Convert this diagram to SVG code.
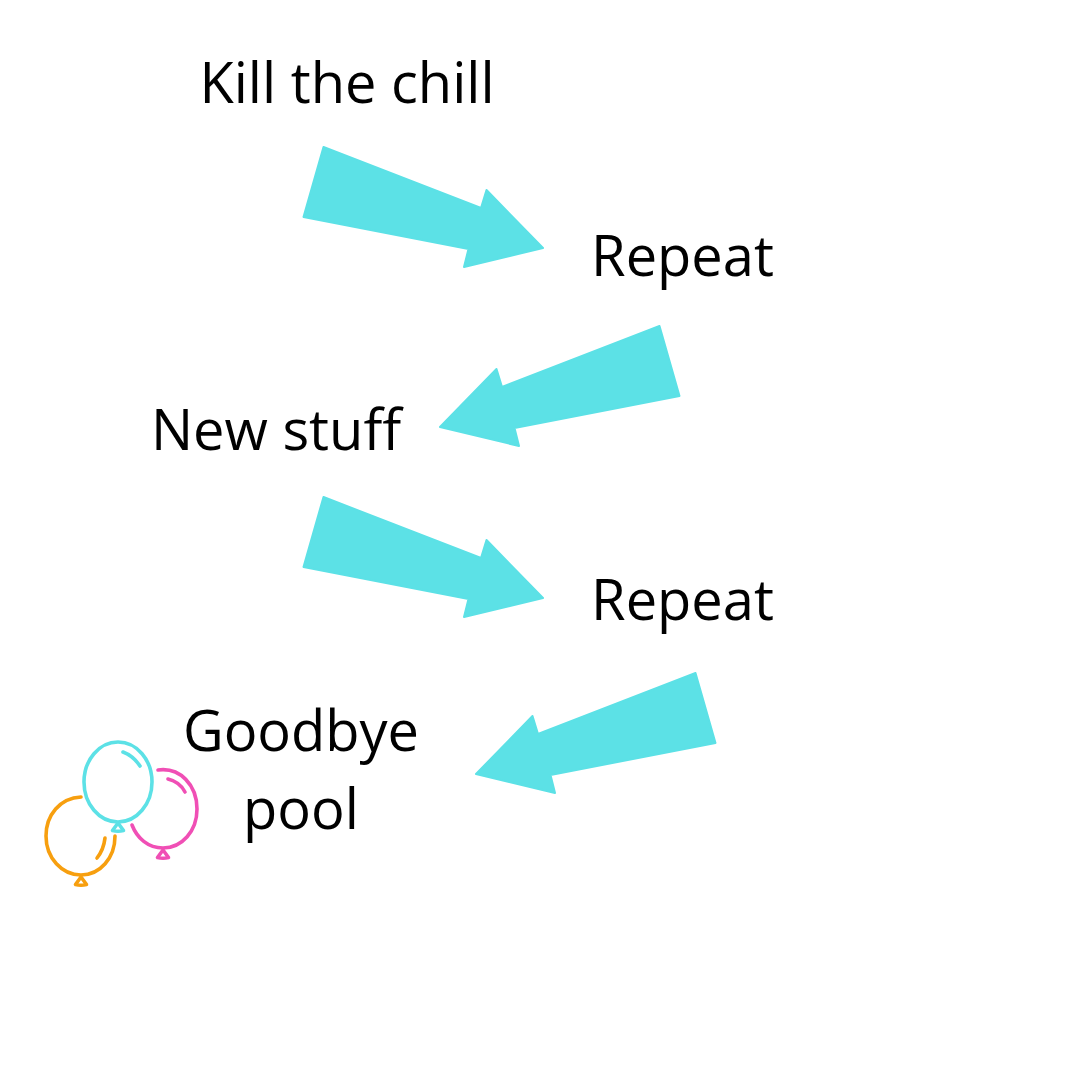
<svg xmlns="http://www.w3.org/2000/svg" width="1080" height="1080" viewBox="0 0 1080 1080">
<style>
.t{font-family:"Open Sans","Noto Sans",sans-serif;font-size:56px;fill:#000;text-anchor:middle}
.a{fill:#5ce1e6;stroke:#5ce1e6;stroke-width:2;stroke-linejoin:round}
.b{fill:none;stroke-width:3.6;stroke-linecap:round;stroke-linejoin:round}
</style>
<rect width="1080" height="1080" fill="#fff"/>
<g id="connectors">
<polygon class="a" points="323.500,147 481,208 486.500,190 543,248 464,267 468.500,249 303.500,217"/>
<polygon class="a" points="659.500,326 502,387 496.500,369 440,427 519,446 514.500,428 679.500,396"/>
<polygon class="a" points="323.500,497 481,558 486.500,540 543,598 464,617 468.500,599 303.500,567"/>
<polygon class="a" points="695.500,673 538,734 532.500,716 476,774 555,793 550.500,775 715.500,743"/>
</g>
<g id="node-kill"><text class="t" x="347" y="103">Kill the chill</text></g>
<g id="node-repeat1"><text class="t" x="682.500" y="276">Repeat</text></g>
<g id="node-new"><text class="t" x="276" y="450">New stuff</text></g>
<g id="node-repeat2"><text class="t" x="682.500" y="620">Repeat</text></g>
<g id="node-goodbye"><text class="t" x="301" y="751">Goodbye</text><text class="t" x="301" y="829">pool</text></g>
<g id="balloons">
<g stroke="#f79f0f" class="b"><path d="M81 797C60 798 46 815 46 836C46 858 62 875 81 875C100 875 115 858 115 836"/><path d="M105 838C104 847 101 853 97 858"/><path d="M81 877L75.500 884.500Q81 886 86.500 884.500Z"/></g>
<g stroke="#f04fb5" class="b"><path d="M158 770C180 767 197 785 197 809C197 831 182 848 163 848C148 848 137 838 132 825"/><path d="M168 779C176 781 182 786 185 792"/><path d="M163 850L157.500 857.500Q163 859 168.500 857.500Z"/></g>
<g stroke="#5ce1e6" class="b"><ellipse cx="118" cy="782" rx="34" ry="40"/><path d="M123 752C131 755 136 760 140 766"/><path d="M118 823L112.500 830.500Q118 832 123.500 830.500Z"/></g>
</g>
</svg>
